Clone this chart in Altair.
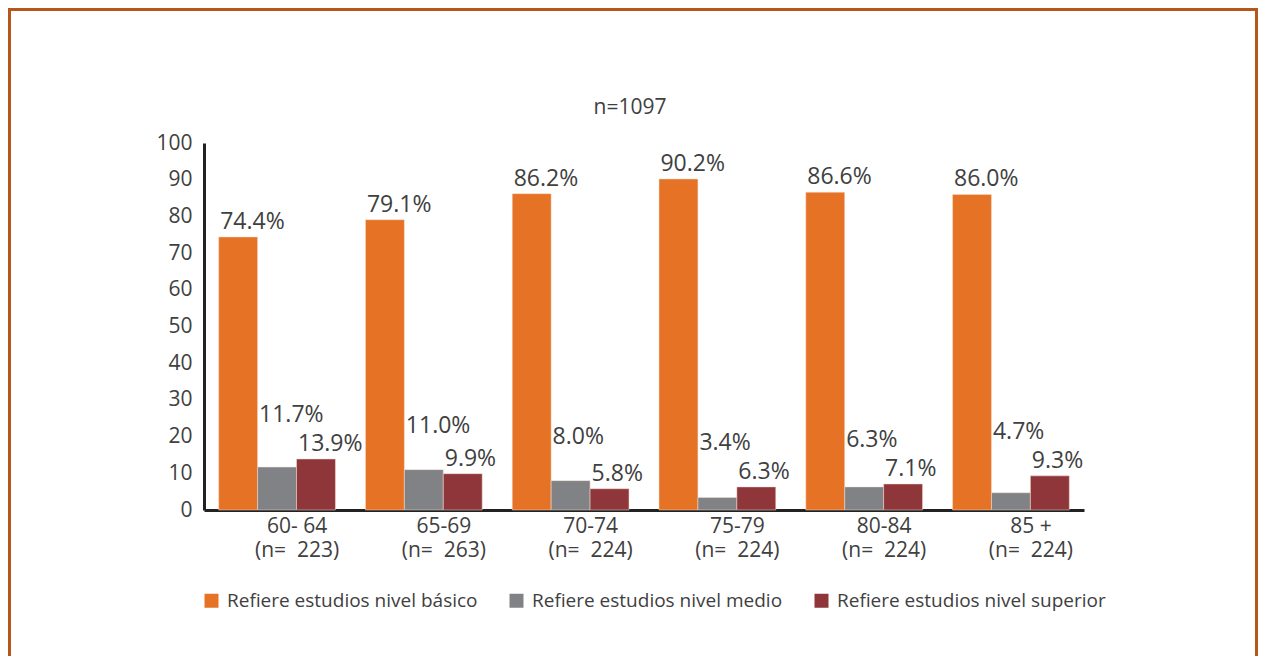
import altair as alt
import pandas as pd

ages = ["60- 64", "65-69", "70-74", "75-79", "80-84", "85 +"]
n_values = ["223", "263", "224", "224", "224", "224"]
series = [
    "Refiere estudios nivel básico",
    "Refiere estudios nivel medio",
    "Refiere estudios nivel superior",
]
basico = [74.4, 79.1, 86.2, 90.2, 86.6, 86.0]
medio = [11.7, 11.0, 8.0, 3.4, 6.3, 4.7]
superior = [13.9, 9.9, 5.8, 6.3, 7.1, 9.3]
colors = ["#E67325", "#818285", "#8F363B"]
y_ticks = [0, 10, 20, 30, 40, 50, 60, 70, 80, 90, 100]
title_text = "n=1097"

cats = [f"{a}|(n=\u00a0 {n})" for a, n in zip(ages, n_values)]
rows = []
for i, c in enumerate(cats):
    for s, vals in zip(series, [basico, medio, superior]):
        v = vals[i]
        pos = max(medio[i], superior[i]) if s == series[1] else v
        rows.append({"cat": c, "serie": s, "valor": v, "pos": pos,
                     "etiqueta": f"{v:.1f}%"})
df = pd.DataFrame(rows)

FONT = "Open Sans"
TXT = "#404040"

x_axis = alt.Axis(labelExpr="split(datum.label, '|')", labelAngle=0,
                  labelFontSize=21, labelColor=TXT, labelFont=FONT,
                  labelLineHeight=24, labelPadding=5, labelOffset=20,
                  tickSize=0, domainColor="#222222", domainWidth=3)
y_axis = alt.Axis(values=y_ticks, grid=False, tickSize=0,
                  labelOverlap=False, labelPadding=12, labelFontSize=21,
                  labelColor=TXT, labelFont=FONT,
                  domainColor="#222222", domainWidth=3)
x_scale = alt.Scale(paddingInner=0.2045, paddingOuter=0.1)
y_scale = alt.Scale(domain=[0, 100])

bars = alt.Chart(df).mark_bar(stroke="#f4e0d4", strokeWidth=0.5).encode(
    x=alt.X("cat:N", sort=cats, title=None, scale=x_scale, axis=x_axis),
    xOffset=alt.XOffset("serie:N", sort=series, scale=alt.Scale(paddingInner=0)),
    y=alt.Y("valor:Q", scale=y_scale, title=None, axis=y_axis),
    color=alt.Color("serie:N", sort=series,
                    scale=alt.Scale(domain=series, range=colors),
                    legend=alt.Legend(title=None, orient="none", legendX=-2, legendY=448,
                                      direction="horizontal", symbolType="square",
                                      symbolSize=196, symbolStrokeWidth=0,
                                      labelFontSize=19, labelColor=TXT, labelFont=FONT,
                                      labelLimit=400, labelOffset=6, columnPadding=29,
                                      symbolOpacity=1)),
)


def labels(cond, dy):
    return alt.Chart(df).transform_filter(cond).mark_text(
        align="left", baseline="alphabetic", dx=-18, dy=dy,
        fontSize=23, font=FONT, color=TXT
    ).encode(
        x=alt.X("cat:N", sort=cats, title=None, scale=x_scale, axis=x_axis),
        xOffset=alt.XOffset("serie:N", sort=series),
        y=alt.Y("pos:Q", scale=y_scale, title=None, axis=y_axis),
        text="etiqueta:N",
    )


text_main = labels(alt.datum.serie != series[1], -8)
text_mid = labels(alt.datum.serie == series[1], -37)

title_mark = alt.Chart(pd.DataFrame({"t": [title_text]})).mark_text(
    align="center", baseline="alphabetic", fontSize=21, font=FONT, color=TXT
).encode(x=alt.value(426), y=alt.value(-29), text="t:N")

border = alt.Chart(pd.DataFrame({"k": [0]})).mark_rect(
    filled=False, stroke="#B5561A", strokeWidth=3
).encode(
    x=alt.value(-194.5), x2=alt.value(1052.5),
    y=alt.value(-133.5), y2=alt.value(700),
)

chart = alt.layer(border, bars, text_main, text_mid, title_mark).properties(
    width=880, height=367,
    autosize=alt.AutoSizeParams(type="none"),
    padding={"left": 196, "top": 135, "right": 174, "bottom": 146},
).configure(background="white").configure_view(strokeWidth=0)

chart.save("out.html", embed_options={"renderer": "svg", "actions": False})
